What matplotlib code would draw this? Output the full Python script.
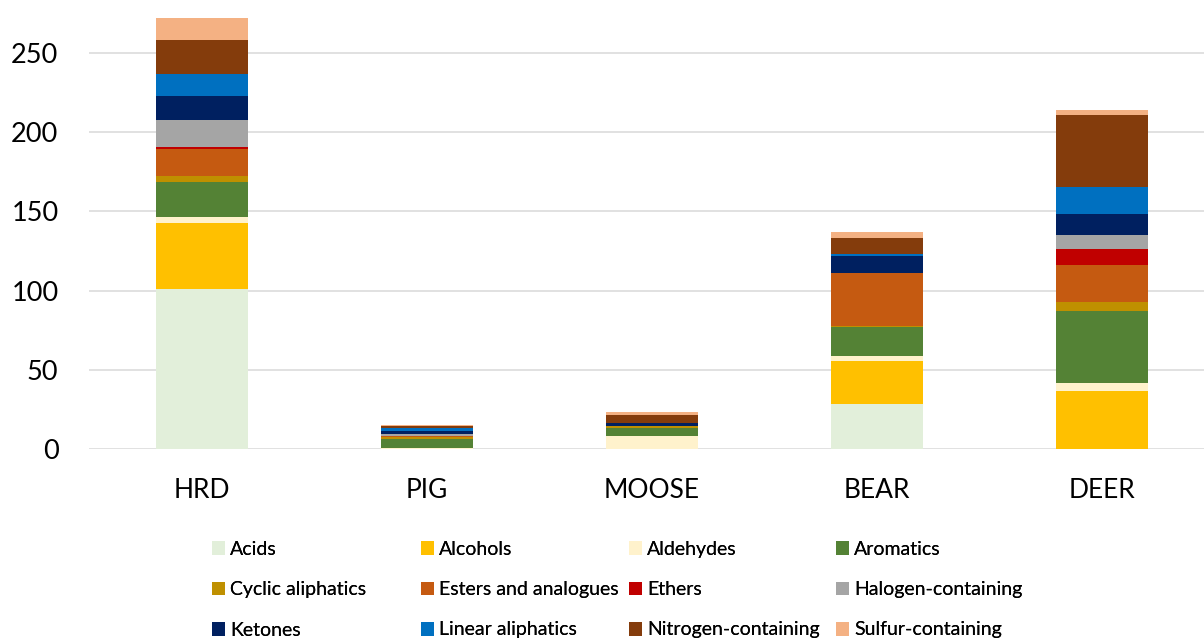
import matplotlib.pyplot as plt
import numpy as np

plt.rcParams['font.family'] = ['Lato', 'DejaVu Sans']

samples = ['HRD', 'PIG', 'MOOSE', 'BEAR', 'DEER']

# compound class totals per sample (HRD, PIG, MOOSE, BEAR, DEER)
acids = [101.0, 0.0, 0.0, 28.6, 0.0]
alcohols = [42.0, 0.0, 0.0, 26.8, 36.6]
aldehydes = [3.7, 0.7, 8.2, 3.5, 5.3]
aromatics = [22.0, 5.8, 5.3, 18.3, 45.4]
cyclic_aliphatics = [3.7, 1.1, 1.2, 0.3, 5.3]
esters = [17.0, 0.6, 0.0, 33.6, 23.6]
ethers = [1.5, 0.0, 0.0, 0.0, 10.1]
halogens = [16.8, 1.5, 0.0, 0.0, 8.6]
ketones = [15.2, 1.9, 1.7, 10.5, 13.3]
linear_aliphatics = [13.6, 1.5, 0.0, 1.5, 17.0]
nitrogen = [21.7, 1.4, 5.1, 10.0, 45.7]
sulfur = [13.7, 0.7, 2.0, 3.6, 3.1]

series = [
    ('Acids', acids, '#E2EFDA'),
    ('Alcohols', alcohols, '#FFC000'),
    ('Aldehydes', aldehydes, '#FFF2CC'),
    ('Aromatics', aromatics, '#548235'),
    ('Cyclic aliphatics', cyclic_aliphatics, '#BF9000'),
    ('Esters and analogues', esters, '#C55A11'),
    ('Ethers', ethers, '#C00000'),
    ('Halogen-containing', halogens, '#A5A5A5'),
    ('Ketones', ketones, '#002060'),
    ('Linear aliphatics', linear_aliphatics, '#0070C0'),
    ('Nitrogen-containing', nitrogen, '#843C0C'),
    ('Sulfur-containing', sulfur, '#F4B183'),
]

fig = plt.figure(figsize=(12.04, 6.39), dpi=100)
ax = fig.add_axes([89 / 1204, 1 - 449 / 639, 1 - 89 / 1204, 449 / 639])

x = np.arange(len(samples))
bottom = np.zeros(len(samples))
handles = []
for name, vals, color in series:
    bars = ax.bar(x, vals, width=0.405, bottom=bottom, color=color, label=name, zorder=2)
    handles.append(bars)
    bottom += np.array(vals)

ax.set_xlim(-0.502, 4.453)
ax.set_ylim(0, 283.5)
ax.set_yticks([0, 50, 100, 150, 200, 250])
ax.set_xticks(x)
ax.set_xticklabels(samples, fontsize=19)
ax.tick_params(axis='y', labelsize=19.5, length=0, pad=22)
ax.tick_params(axis='x', length=0, pad=21)
ax.yaxis.grid(True, color='#D9D9D9', linewidth=1.1, zorder=0)
ax.set_axisbelow(True)
for s in ax.spines.values():
    s.set_visible(False)

# legend laid out row by row in four fixed columns
col_x = [206, 415, 623, 830]
for c in range(4):
    hs = [handles[c], handles[c + 4], handles[c + 8]]
    leg = fig.legend(hs, [h.get_label() for h in hs], loc='upper left',
                     bbox_to_anchor=(col_x[c] / 1204, 1 - 535 / 639),
                     frameon=False, fontsize=14, handlelength=0.7, handleheight=0.7,
                     handletextpad=0.25, labelspacing=1.2, borderaxespad=0, borderpad=0.3)
    fig.add_artist(leg)

fig.savefig('out.png', dpi=100)
